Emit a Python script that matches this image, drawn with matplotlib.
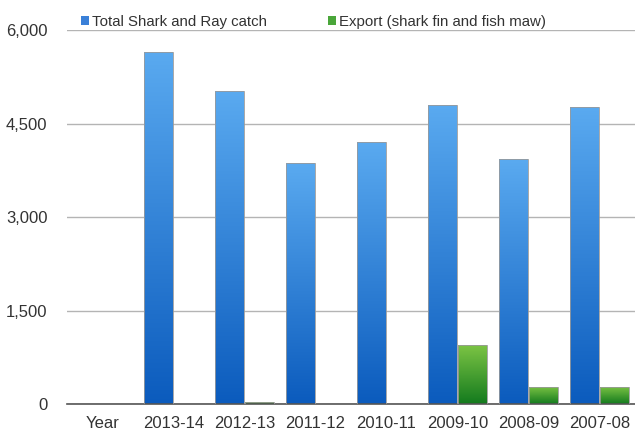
import matplotlib
matplotlib.use("Agg")
import matplotlib.pyplot as plt
import numpy as np
from matplotlib.patches import Patch
from matplotlib.colors import LinearSegmentedColormap

plt.rcParams['font.family'] = ['Liberation Sans', 'DejaVu Sans']

categories = ['Year', '2013-14', '2012-13', '2011-12', '2010-11', '2009-10', '2008-09', '2007-08']
catch = [0, 5650, 5020, 3865, 4200, 4795, 3930, 4765]
export = [0, 0, 25, 0, 0, 945, 275, 275]

blue_cm = LinearSegmentedColormap.from_list('blue', ['#0b5bbd', '#5aaaf0'])
green_cm = LinearSegmentedColormap.from_list('green', ['#137a1e', '#7cc444'])

fig = plt.figure(figsize=(6.35, 4.3), dpi=100)
ax = fig.add_axes([0.1055, 0.0605, 0.8945, 0.8695])

x = np.arange(len(categories))
w = 0.40
gap = 0.02
grad = np.linspace(0, 1, 256).reshape(-1, 1)

def grad_bars(xs, vals, cmap):
    bars = ax.bar(xs, vals, w, color='none', edgecolor='#9a9a9a', linewidth=0.6, zorder=3)
    for b in bars:
        h = b.get_height()
        if h <= 0:
            continue
        x0 = b.get_x()
        im = ax.imshow(grad, cmap=cmap, origin='lower', aspect='auto',
                       extent=[x0, x0 + b.get_width(), 0, h], zorder=2)
        im.set_clip_path(b)

grad_bars(x - w / 2 - gap / 2, catch, blue_cm)
grad_bars(x + w / 2 + gap / 2, export, green_cm)

ax.set_xlim(-0.5, len(categories) - 0.5)
ax.set_ylim(0, 6000)
ax.set_yticks([0, 1500, 3000, 4500, 6000])
ax.set_yticklabels(['0', '1,500', '3,000', '4,500', '6,000'])
ax.set_xticks(x)
ax.set_xticklabels(categories)
ax.tick_params(axis='both', length=0, labelsize=12, colors='#333333')
ax.tick_params(axis='y', pad=14)
ax.tick_params(axis='x', pad=9)
ax.grid(axis='y', color='#b4b4b4', linewidth=1.0, zorder=0)
ax.set_axisbelow(True)
for s in ['left', 'right', 'top']:
    ax.spines[s].set_visible(False)
ax.spines['bottom'].set_color('#555555')
ax.spines['bottom'].set_linewidth(1.2)

handles = [Patch(facecolor='#3a80d8', label='Total Shark and Ray catch'),
           Patch(facecolor='#4aa63a', label='Export (shark fin and fish maw)')]
ax.legend(handles=handles, loc='lower left', bbox_to_anchor=(0.022, 1.0), ncol=2,
          frameon=False, fontsize=10.85, labelcolor='#333333', handlelength=0.55, handleheight=0.55,
          handletextpad=0.2, columnspacing=4.0, borderaxespad=0, borderpad=0.1)

fig.savefig('out.png', dpi=100)
